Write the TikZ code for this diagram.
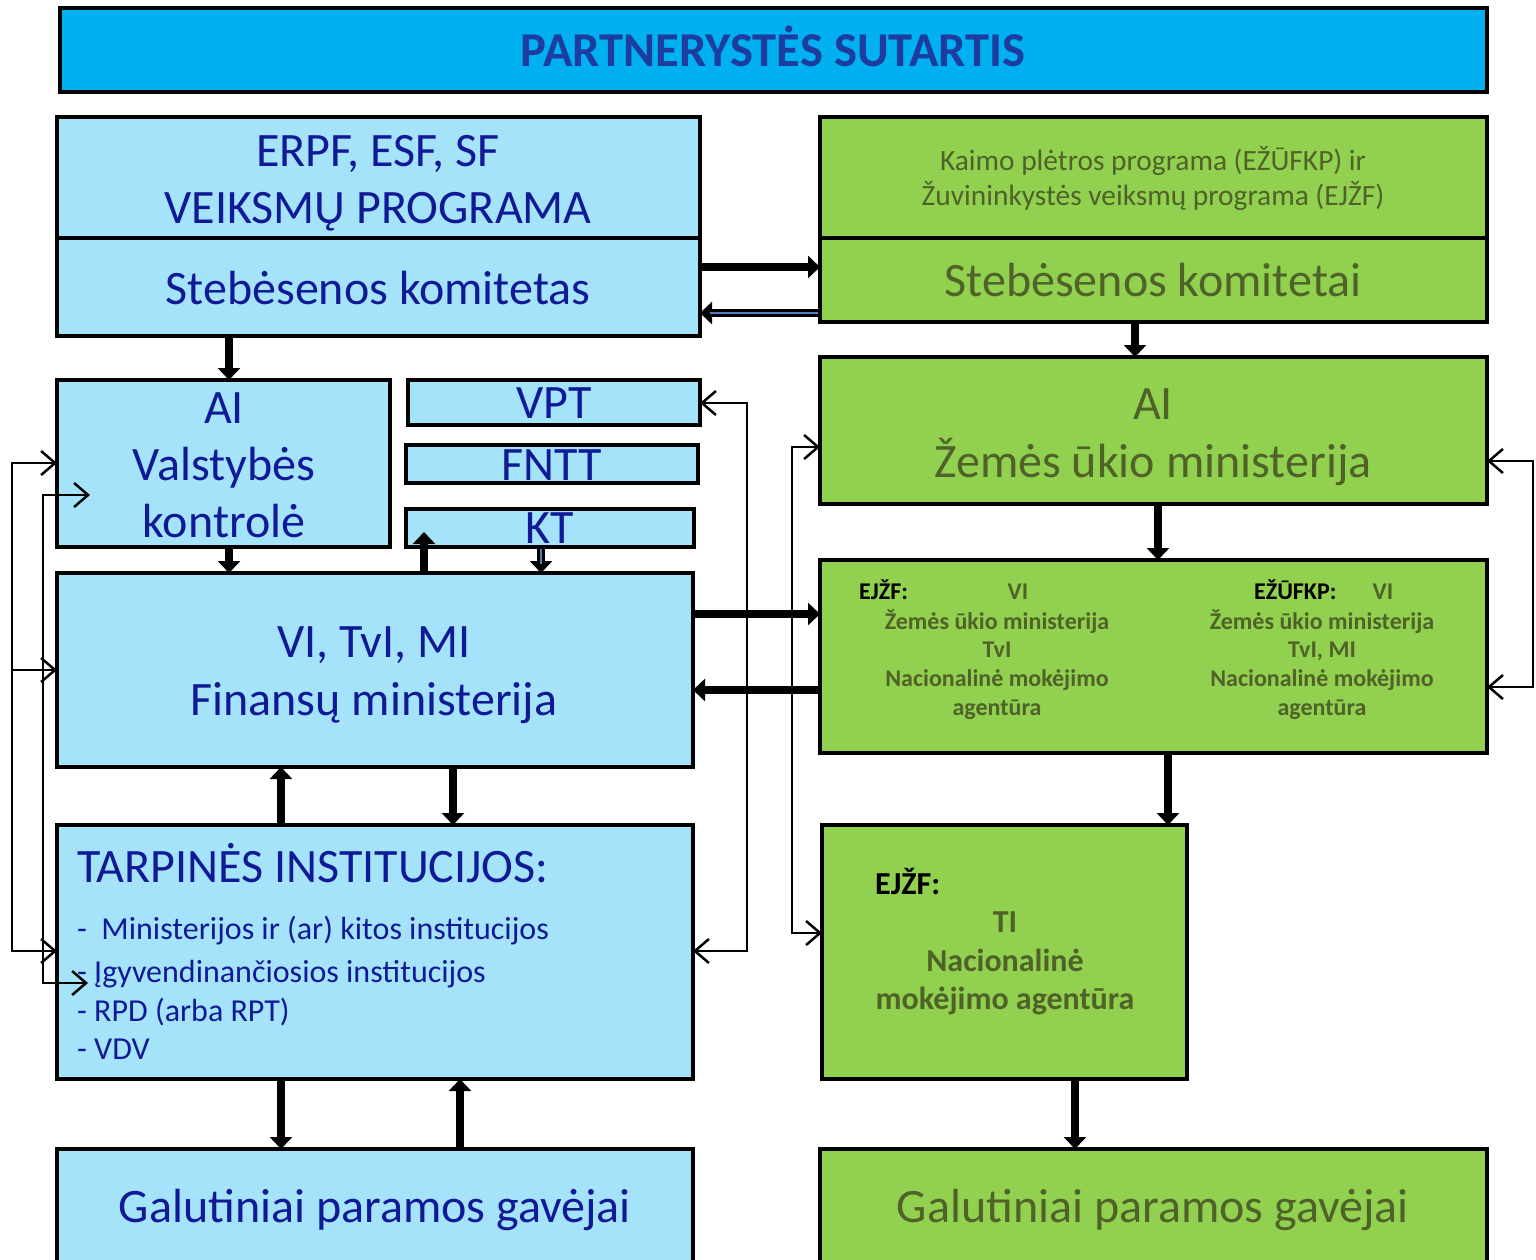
\documentclass[tikz,border=0pt]{standalone}
\usepackage{fontspec}
\setmainfont{Carlito}
\usetikzlibrary{arrows.meta}
\definecolor{lblue}{RGB}{165,227,250}
\definecolor{tblue}{RGB}{16,26,150}
\definecolor{lgreen}{RGB}{146,208,80}
\definecolor{tgreen}{RGB}{79,98,40}
\definecolor{titlefill}{RGB}{0,176,240}
\definecolor{titletext}{RGB}{28,60,160}
\definecolor{midblue}{RGB}{79,129,189}
\begin{document}
\begin{tikzpicture}[x=1pt,y=-1pt,
 box/.style={draw=black,line width=4pt,anchor=north west,inner sep=0pt,outer sep=0pt},
 bbox/.style={box,fill=lblue},
 gbox/.style={box,fill=lgreen},
 t/.style={inner sep=0pt,anchor=base},
 big/.style={t,font=\fontsize{48}{57}\selectfont},
 mid/.style={t,font=\fontsize{32}{40}\selectfont},
 kai/.style={t,font=\fontsize{29.4}{35}\selectfont,text=tgreen},
 sm/.style={t,font=\bfseries\fontsize{24}{29}\selectfont,text=tgreen},
 ti/.style={t,font=\bfseries\fontsize{32}{39}\selectfont,text=tgreen},
 fat/.style={line width=8pt,-{Triangle[length=12pt,width=22pt]}},
 thin/.style={line width=2.5pt,line join=miter},
 barb/.style={{Straight Barb[length=14pt,width=24pt]}-{Straight Barb[length=14pt,width=24pt]}},
 barbend/.style={-{Straight Barb[length=14pt,width=24pt]}},
]
\useasboundingbox (0,0) rectangle (1536,1259);
\clip (0,0) rectangle (1536,1259);
% boxes
\node[box,fill=titlefill,minimum width=1427pt,minimum height=84pt] (title) at (60,8) {};
\node[bbox,minimum width=643pt,minimum height=121pt] (erpf) at (57,117) {};
\node[bbox,minimum width=643pt,minimum height=98pt] (stebL) at (57,238) {};
\node[gbox,minimum width=667pt,minimum height=121pt] (kaimo) at (820,117) {};
\node[gbox,minimum width=667pt,minimum height=84pt] (stebR) at (820,238) {};
\node[bbox,minimum width=333pt,minimum height=167pt] (ai) at (57,380) {};
\node[bbox,minimum width=292pt,minimum height=45pt] (vpt) at (408,380) {};
\node[bbox,minimum width=292pt,minimum height=38pt] (fntt) at (406,445) {};
\node[bbox,minimum width=288pt,minimum height=38pt] (kt) at (406,509) {};
\node[bbox,minimum width=636pt,minimum height=194pt] (fm) at (57,573) {};
\node[bbox,minimum width=636pt,minimum height=254pt] (tarp) at (57,825) {};
\node[bbox,minimum width=636pt,minimum height=120pt] (galL) at (57,1149) {};
\node[gbox,minimum width=667pt,minimum height=147pt] (zum) at (820,357) {};
\node[gbox,minimum width=667pt,minimum height=193pt] (ejzf) at (820,560) {};
\node[gbox,minimum width=365pt,minimum height=254pt] (tibox) at (822,825) {};
\node[gbox,minimum width=667pt,minimum height=120pt] (galR) at (820,1149) {};
% texts
\node[big,font=\bfseries\fontsize{48.6}{57}\selectfont,text=titletext] (titleT) at (773,66.5) {PARTNERYSTĖS SUTARTIS};
\node[big,text=tblue] (erpfT1) at (378,166) {ERPF, ESF, SF};
\node[big,text=tblue] (erpfT2) at (378,223) {VEIKSMŲ PROGRAMA};
\node[big,text=tblue] (stebLT) at (378,304.5) {Stebėsenos komitetas};
\node[kai] (kaimoT1) at (1153,170) {Kaimo plėtros programa (EŽŪFKP) ir};
\node[kai] (kaimoT2) at (1153,205) {Žuvininkystės veiksmų programa (EJŽF)};
\node[big,text=tgreen] (stebRT) at (1153,296.5) {Stebėsenos komitetai};
\node[big,text=tblue] (aiT1) at (224,423.5) {AI};
\node[big,text=tblue] (aiT2) at (224,480.5) {Valstybės};
\node[big,text=tblue] (aiT3) at (224,537.5) {kontrolė};
\node[big,text=tblue] (vptT) at (554,418.5) {VPT};
\node[big,text=tblue] (fnttT) at (552,480.5) {FNTT};
\node[big,text=tblue] (ktT) at (550,543.5) {KT};
\node[big,text=tblue] (fmT1) at (374,657.5) {VI, TvI, MI};
\node[big,text=tblue] (fmT2) at (374,715) {Finansų ministerija};
\node[big,text=tblue,anchor=base west] (tarpT) at (77,882) {TARPINĖS INSTITUCIJOS:};
\node[mid,text=tblue,anchor=base west] (tarp1) at (77,939) {-~~Ministerijos ir (ar) kitos institucijos};
\node[mid,text=tblue,anchor=base west] (tarp2) at (77,982) {- Įgyvendinančiosios institucijos};
\node[mid,text=tblue,anchor=base west] (tarp3) at (77,1021) {- RPD (arba RPT)};
\node[mid,text=tblue,anchor=base west] (tarp4) at (77,1059) {- VDV};
\node[big,text=tblue] (galLT) at (375,1222) {Galutiniai paramos gavėjai};
\node[big,text=tgreen] (zumT1) at (1153,419.5) {AI};
\node[big,text=tgreen] (zumT2) at (1153,477) {Žemės ūkio ministerija};
\node[sm,text=black,anchor=base west] (ejA0) at (859,599) {EJŽF:};
\node[sm] (ejA1) at (1018,599) {VI};
\node[sm] (ejA2) at (997,629) {Žemės ūkio ministerija};
\node[sm] (ejA3) at (997,657) {TvI};
\node[sm] (ejA4) at (997,686) {Nacionalinė mokėjimo};
\node[sm] (ejA5) at (997,715) {agentūra};
\node[sm,text=black,anchor=base west] (ejB0) at (1254,599) {EŽŪFKP:};
\node[sm] (ejB1) at (1383,599) {VI};
\node[sm] (ejB2) at (1322,629) {Žemės ūkio ministerija};
\node[sm] (ejB3) at (1322,657) {TvI, MI};
\node[sm] (ejB4) at (1322,686) {Nacionalinė mokėjimo};
\node[sm] (ejB5) at (1322,715) {agentūra};
\node[ti,text=black,anchor=base west] (tiT0) at (875,894) {EJŽF:};
\node[ti] (tiT1) at (1005,932) {TI};
\node[ti] (tiT2) at (1005,971) {Nacionalinė};
\node[ti] (tiT3) at (1005,1009) {mokėjimo agentūra};
\node[big,text=tgreen] (galRT) at (1153,1222) {Galutiniai paramos gavėjai};
% thick connectors
\draw[fat] ([xshift=172pt]stebL.south west) -- ([xshift=172pt]ai.north west);
\draw[fat] ([xshift=172pt]ai.south west) -- ([xshift=172pt]fm.north west);
\draw[fat] ([xshift=367pt]fm.north west) -- ([xshift=18pt,yshift=-23pt]kt.north west);
\draw[fat] ([xshift=135pt]kt.south west) -- ([xshift=484pt]fm.north west);
\draw[line width=2pt,midblue] ([xshift=135pt,yshift=-2pt]kt.south west) -- ([xshift=484pt,yshift=9pt]fm.north west);
\draw[fat] ([yshift=-29pt]stebL.north east) -- ([yshift=-29pt]stebR.north west);
\draw[fat] ([yshift=-75pt]stebR.north west) -- ([yshift=-75pt]stebL.north east);
\draw[line width=2pt,midblue] ([xshift=-2pt,yshift=-75pt]stebR.north west) -- ([xshift=10pt,yshift=-75pt]stebL.north east);
\draw[fat] ([xshift=315pt]stebR.south west) -- ([xshift=315pt]zum.north west);
\draw[fat] ([xshift=338pt]zum.south west) -- ([xshift=338pt]ejzf.north west);
\draw[fat] ([xshift=348pt]ejzf.south west) -- ([xshift=346pt]tibox.north west);
\draw[fat] ([xshift=253pt]tibox.south west) -- ([xshift=255pt]galR.north west);
\draw[fat] ([yshift=-41pt]fm.north east) -- ([yshift=-54pt]ejzf.north west);
\draw[fat] ([yshift=-130pt]ejzf.north west) -- ([yshift=-117pt]fm.north east);
\draw[fat] ([xshift=224pt]tarp.north west) -- ([xshift=224pt]fm.south west);
\draw[fat] ([xshift=396pt]fm.south west) -- ([xshift=396pt]tarp.north west);
\draw[fat] ([xshift=224pt]tarp.south west) -- ([xshift=224pt]galL.north west);
\draw[fat] ([xshift=403pt]galL.north west) -- ([xshift=403pt]tarp.south west);
% thin connectors
\coordinate (tA) at (12,463);
\coordinate (tC) at (12,670);
\coordinate (tB) at (12,951);
\draw[thin,barb] (tA -| ai.west) -- (tA) -- (tB) -- (tB -| tarp.west);
\draw[thin,barbend] (tC) -- (tC -| fm.west);
\coordinate (uA) at (43,495);
\coordinate (uB) at (43,983);
\coordinate (uAe) at (90,495);
\coordinate (uBe) at (88,983);
\draw[thin,barb] (uAe) -- (uA) -- (uB) -- (uBe);
\coordinate (rA) at (747,403);
\coordinate (rB) at (747,951);
\draw[thin,barb] (rA -| vpt.east) -- (rA) -- (rB) -- (rB -| tarp.east);
\coordinate (sA) at (792,447);
\coordinate (sB) at (792,933);
\draw[thin,barb] (sA -| zum.west) -- (sA) -- (sB) -- (sB -| tibox.west);
\coordinate (wA) at (1533,461);
\coordinate (wB) at (1533,687);
\draw[thin,barb] (wA -| zum.east) -- (wA) -- (wB) -- (wB -| ejzf.east);
\end{tikzpicture}
\end{document}
